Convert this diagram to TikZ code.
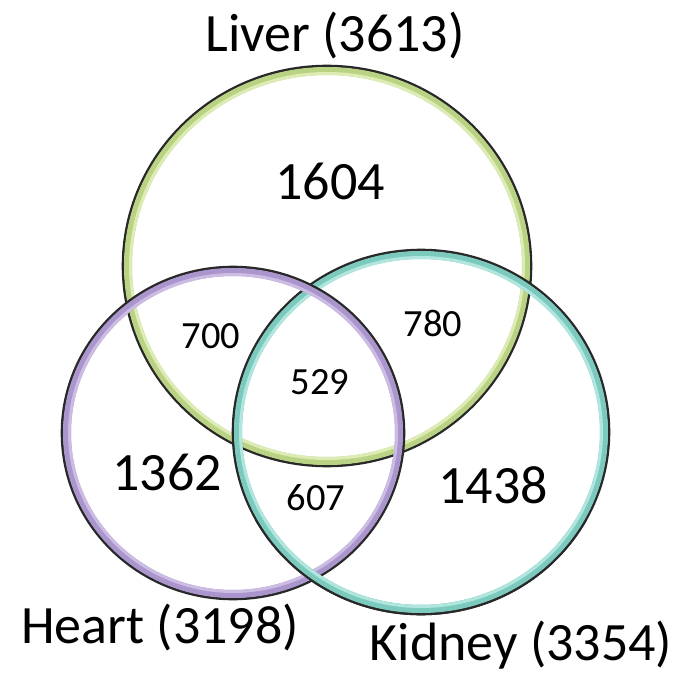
\documentclass[tikz,border=0pt]{standalone}
\usepackage{fontspec}
\setmainfont{Carlito}
\definecolor{livc}{RGB}{186,210,132}
\definecolor{livl}{RGB}{220,236,180}
\definecolor{hrtc}{RGB}{170,150,204}
\definecolor{hrtl}{RGB}{204,188,228}
\definecolor{kidc}{RGB}{124,202,190}
\definecolor{kidl}{RGB}{176,230,222}
\definecolor{rimc}{RGB}{40,40,40}
\newcommand\vring[5]{%
  \draw[rimc,line width=2.6pt] (#1,#2) ellipse [x radius=#3+4, y radius=#4+4];
  \draw[#5c,line width=8pt] (#1,#2) ellipse [x radius=#3-1, y radius=#4-1];
  \draw[#5l,line width=3pt] (#1,#2) ellipse [x radius=#3-3.5, y radius=#4-3.5];
}
\begin{document}
\begin{tikzpicture}[x=1pt,y=-1pt,
  big/.style={inner sep=0pt,anchor=base,font=\fontsize{54}{62}\selectfont},
  small/.style={inner sep=0pt,anchor=base,font=\fontsize{38.5}{46}\selectfont}]
\useasboundingbox[fill=white] (0,0) rectangle (689,674);
\vring{327}{266}{200}{196}{liv}
\vring{421}{432}{184}{178}{kid}
\vring{233}{433}{167}{162}{hrt}
\begin{scope}
\clip (0,520) rectangle (689,674);
\vring{421}{432}{184}{178}{kid}
\end{scope}
\node[big] (tliver) at (335,52) {Liver (3613)};
\node[big] (nl) at (330,200) {1604};
\node[small] (nlh) at (211,348) {700};
\node[small] (nlk) at (433,336) {780};
\node[small] (nall) at (320,394) {529};
\node[big] (nh) at (167,490) {1362};
\node[small] (nhk) at (316,510) {607};
\node[big] (nk) at (493,503) {1438};
\node[big] (theart) at (160,643) {Heart (3198)};
\node[big] (tkid) at (521,660) {Kidney (3354)};
\end{tikzpicture}
\end{document}
